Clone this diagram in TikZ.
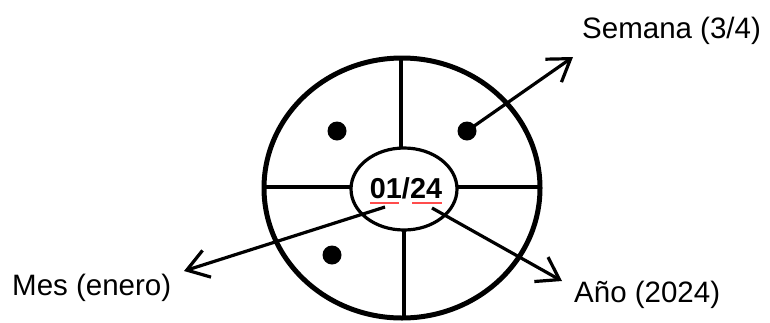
\documentclass[tikz,border=0pt]{standalone}
\usepackage{fontspec}
\setmainfont{Liberation Sans}
\usetikzlibrary{arrows.meta,shapes.geometric}
\begin{document}
\begin{tikzpicture}[x=1pt,y=-1pt,
  lbl/.style={font=\fontsize{29.5}{33}\selectfont, inner sep=0pt, anchor=west},
  dotn/.style={circle, fill=black, minimum size=19pt, inner sep=0pt},
  divider/.style={line width=3.2pt},
  arr/.style={line width=3.2pt, -{Straight Barb[length=21pt,width=28pt,line width=3.2pt]}}]
\useasboundingbox (0,0) rectangle (770,322);
% outer circle
\node[draw, line width=5pt, ellipse, minimum width=276pt, minimum height=260pt, inner sep=0pt] (outer) at (402,188) {};
% inner ellipse
\node[draw, line width=3.2pt, ellipse, minimum width=106pt, minimum height=82pt, inner sep=0pt] (inner) at (404,189) {};
\node[font=\bfseries\fontsize{28.8}{32}\selectfont, inner sep=0pt] (date) at (406,188) {01/24};
\draw[red!70, line width=1.8pt] (370,203) -- (399,203);
\draw[red!70, line width=1.8pt] (412,203) -- (442,203);
% dividers
\draw[divider] (401,60) -- (401,148);
\draw[divider] (404,230) -- (404,317);
\draw[divider] (266,187) -- (351,187);
\draw[divider] (457,187) -- (538,187);
% dots
\node[dotn] (d1) at (337,131) {};
\node[dotn] (d2) at (467,131) {};
\node[dotn] (d3) at (332,255) {};
% labels
\node[lbl] (sem) at (582,31) {Semana (3/4)};
\node[lbl] (mes) at (12,288) {Mes (enero)};
\node[lbl] (ano) at (574,295) {Año (2024)};
% arrow endpoints
\coordinate (semtip) at (573,57);
\coordinate (messtart) at (385,207);
\coordinate (mestip) at (184,271);
\coordinate (anostart) at (432,208);
\coordinate (anotip) at (562,281);
\draw[arr] (d2.center) -- (semtip);
\draw[arr] (messtart) -- (mestip);
\draw[arr] (anostart) -- (anotip);
\end{tikzpicture}
\end{document}
